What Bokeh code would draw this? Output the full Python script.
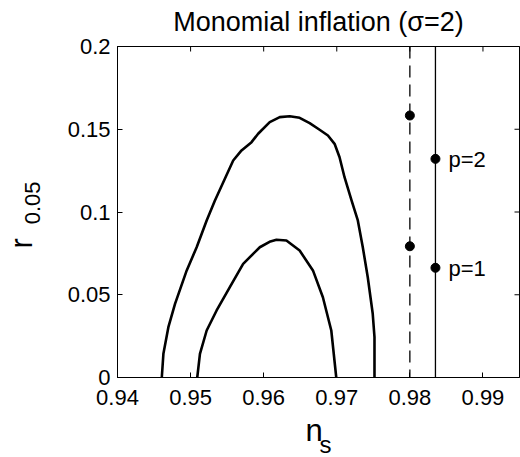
import numpy as np
from bokeh.plotting import figure
from bokeh.models import Range1d, FixedTicker, Span, Title, LinearAxis
from bokeh.core.properties import value
from bokeh.embed import file_html
from bokeh.resources import INLINE

# ---- data ----
x_ticks = [0.94, 0.95, 0.96, 0.97, 0.98, 0.99]
x_tick_labels = ["0.94", "0.95", "0.96", "0.97", "0.98", "0.99"]
y_ticks = [0.0, 0.05, 0.1, 0.15, 0.2]
y_tick_labels = ["0", "0.05", "0.1", "0.15", "0.2"]

outer_ns = [0.94606, 0.94628, 0.94696, 0.94787, 0.94947, 0.95083, 0.95220, 0.95333,
            0.95469, 0.95583, 0.95697, 0.95834, 0.95924, 0.96083, 0.96220, 0.96356,
            0.96492, 0.96629, 0.96765, 0.96879, 0.96970, 0.97038, 0.97106, 0.97202,
            0.97288, 0.97356, 0.97424, 0.97492, 0.97516, 0.97516]
outer_r = [0.0, 0.0143, 0.0304, 0.0445, 0.0647, 0.0787, 0.0949, 0.1069,
           0.1201, 0.1311, 0.1372, 0.1422, 0.1473, 0.1543, 0.1573, 0.1579,
           0.1569, 0.1537, 0.1497, 0.1462, 0.1412, 0.1331, 0.1210, 0.1070,
           0.0949, 0.0787, 0.0606, 0.0385, 0.0244, 0.0]

inner_ns = [0.95091, 0.95128, 0.95220, 0.95356, 0.95537, 0.95719, 0.95947, 0.96080,
            0.96175, 0.96311, 0.96492, 0.96674, 0.96810, 0.96925, 0.96993]
inner_r = [0.0, 0.0143, 0.0284, 0.0405, 0.0546, 0.0687, 0.0787, 0.0820,
           0.0832, 0.0828, 0.0767, 0.0647, 0.0485, 0.0284, 0.0]

dashed_ns = 0.9800
dashed_points_r = [0.0793, 0.1583]
solid_ns = 0.9835
solid_points_r = [0.0663, 0.1321]
point_labels = ["p=1", "p=2"]

title_text = "Monomial inflation (\u03c3=2)"
x_label_main, x_label_sub = "n", "s"
y_label_main, y_label_sub = "r", "0.05"

NB = "\u00a0"
FONT = "Liberation Sans"
X0, X1 = 0.94, 0.995
Y0, Y1 = 0.0, 0.2
W, H = 520, 457
BL, BR, BT, BB = 117, 1, 46, 80
FW, FH = W - BL - BR, H - BT - BB
TICK = 5

p = figure(width=W, height=H,
           x_range=Range1d(X0, X1), y_range=Range1d(Y0, Y1),
           output_backend="svg", toolbar_location=None,
           min_border_left=BL, min_border_right=BR,
           min_border_top=BT, min_border_bottom=BB)
p.xgrid.visible = False
p.ygrid.visible = False
p.outline_line_color = "black"
p.outline_line_width = 1
p.background_fill_color = "white"
p.border_fill_color = "white"

for ax in (p.xaxis[0], p.yaxis[0]):
    ax.major_tick_in = TICK
    ax.major_tick_out = 0
    ax.minor_tick_line_color = None
    ax.axis_line_color = "black"
    ax.major_tick_line_color = "black"
    ax.major_label_text_font = FONT
    ax.major_label_text_font_size = "22px"
    ax.major_label_text_color = "black"
    ax.axis_label_text_font = FONT
    ax.axis_label_text_font_style = "normal"
    ax.axis_label_text_color = "black"

p.xaxis[0].ticker = FixedTicker(ticks=x_ticks)
p.xaxis[0].major_label_overrides = {t: l for t, l in zip(x_ticks, x_tick_labels)}
p.xaxis[0].major_label_standoff = 12
p.xaxis[0].axis_label = x_label_main + NB
p.xaxis[0].axis_label_text_font_size = "31px"
p.xaxis[0].axis_label_standoff = 5

p.yaxis[0].ticker = FixedTicker(ticks=y_ticks)
p.yaxis[0].major_label_overrides = {t: l for t, l in zip(y_ticks, y_tick_labels)}
p.yaxis[0].major_label_standoff = 7
p.yaxis[0].axis_label = NB * 3 + y_label_sub
p.yaxis[0].axis_label_text_font_size = "22px"
p.yaxis[0].axis_label_standoff = 20

# title carried by a tick-less top axis
top_ax = LinearAxis(ticker=FixedTicker(ticks=[]), axis_label=title_text,
                    axis_label_standoff=10, axis_label_text_font=FONT,
                    axis_label_text_font_size="27px", axis_label_text_font_style="normal",
                    axis_label_text_color="black", axis_line_color="black",
                    major_tick_line_color=None, minor_tick_line_color=None)
p.add_layout(top_ax, "above")

def side_title(text, size, offset, standoff, valign):
    return Title(text=text, align="left", offset=offset, standoff=standoff,
                 vertical_align=valign, text_font=FONT, text_font_size=size,
                 text_font_style="normal", text_color="black")

p.add_layout(side_title(x_label_sub, "24px", 202, -39, "top"), "below")
p.add_layout(side_title(y_label_main, "31px", 129, -44, "bottom"), "left")

# inward ticks on the top and right edges of the box
dx = TICK * (X1 - X0) / FW
dy = TICK * (Y1 - Y0) / FH
p.segment(x0=x_ticks, x1=x_ticks, y0=[Y1] * len(x_ticks), y1=[Y1 - dy] * len(x_ticks),
          line_color="black", line_width=1)
p.segment(x0=[X1] * len(y_ticks), x1=[X1 - dx] * len(y_ticks), y0=y_ticks, y1=y_ticks,
          line_color="black", line_width=1)

# contours
p.line(outer_ns, outer_r, line_color="black", line_width=2.6, line_join="round")
p.line(inner_ns, inner_r, line_color="black", line_width=2.6, line_join="round")

# vertical lines
p.add_layout(Span(location=dashed_ns, dimension="height", line_color="black",
                  line_width=1.3, line_dash="12 7"))
p.add_layout(Span(location=solid_ns, dimension="height", line_color="black",
                  line_width=1.3))

p.scatter([dashed_ns] * len(dashed_points_r), dashed_points_r, size=9,
          fill_color="black", line_color="black")
p.scatter([solid_ns] * len(solid_points_r), solid_points_r, size=9,
          fill_color="black", line_color="black")
p.text([solid_ns] * len(solid_points_r), solid_points_r, text=point_labels,
       x_offset=13, y_offset=1, text_font=value(FONT), text_font_size="22px",
       text_baseline="middle", text_align="left", text_color="black")

open("out.html", "w").write(file_html(p, INLINE))
